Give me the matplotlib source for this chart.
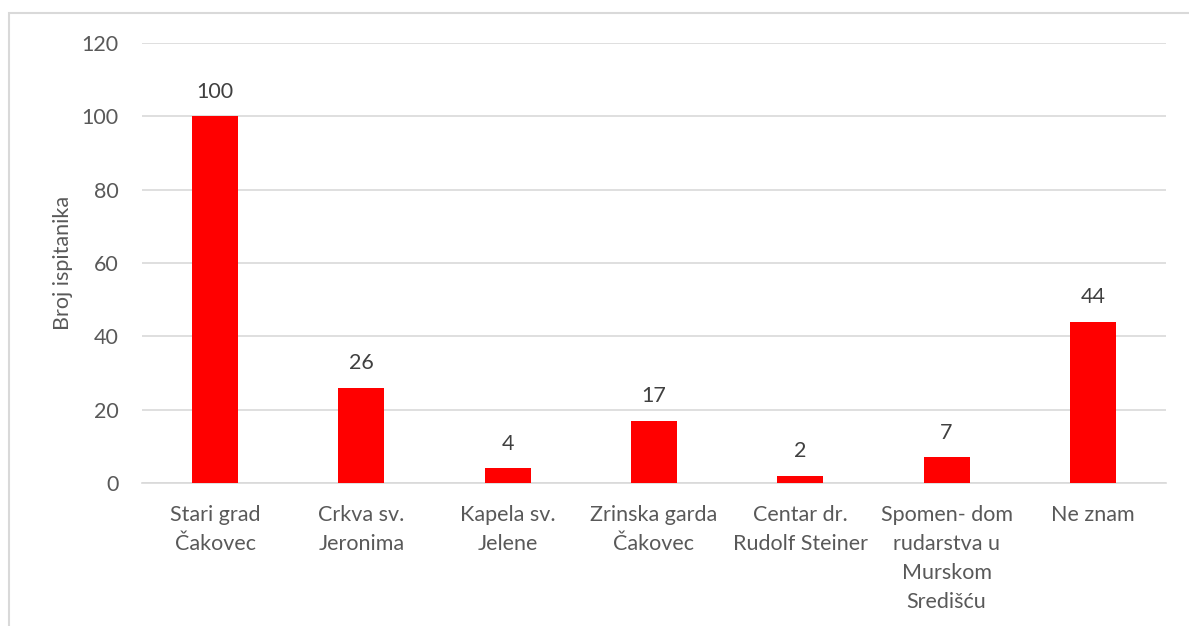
import matplotlib.pyplot as plt
from matplotlib.patches import Rectangle

kategorije = ["Stari grad\nČakovec", "Crkva sv.\nJeronima", "Kapela sv.\nJelene",
              "Zrinska garda\nČakovec", "Centar dr.\nRudolf Steiner",
              "Spomen- dom\nrudarstva u\nMurskom\nSredišću", "Ne znam"]
broj = [100, 26, 4, 17, 2, 7, 44]
y_ticks = [0, 20, 40, 60, 80, 100, 120]

plt.rcParams["font.family"] = ["Lato", "DejaVu Sans"]

fig = plt.figure(figsize=(11.89, 6.26), dpi=100)
ax = fig.add_axes([142 / 1189, 1 - 483 / 626, 1024 / 1189, 440 / 626])

# okvir slike
fig.patches.append(Rectangle((9 / 1189, -0.1), 1.1, 1 - 13 / 626 + 0.1,
                             transform=fig.transFigure, fill=False,
                             edgecolor="#d9d9d9", linewidth=1.5))

x = range(len(broj))
ax.bar(x, broj, width=0.315, color="#ff0000", zorder=3)
for xi, v in zip(x, broj):
    ax.text(xi, v + 4, str(v), ha="center", va="bottom", fontsize=15.5, color="#404040")

ax.set_xlim(-0.5, len(broj) - 0.5)
ax.set_ylim(0, 120)
ax.set_yticks(y_ticks)
ax.grid(axis="y", color="#d9d9d9", linewidth=1.2, zorder=0)
for s in ["top", "right", "left"]:
    ax.spines[s].set_visible(False)
ax.spines["bottom"].set_color("#d9d9d9")
ax.spines["bottom"].set_linewidth(1.2)
ax.tick_params(length=0, labelsize=15.5, labelcolor="#595959")
ax.tick_params(axis="y", pad=17)
ax.tick_params(axis="x", pad=16)
ax.set_xticks(list(x))
ax.set_xticklabels(kategorije, linespacing=1.55)
ax.set_ylabel("Broj ispitanika", fontsize=15.5, color="#595959", labelpad=6)

fig.savefig("out.png", dpi=100)
